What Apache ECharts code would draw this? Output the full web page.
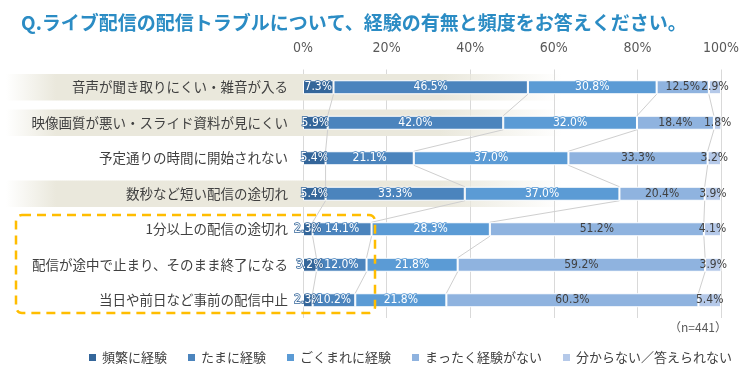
<!DOCTYPE html>
<html><head><meta charset="utf-8">
<script src="https://cdn.jsdelivr.net/npm/echarts@6/dist/echarts.min.js"></script>
<style>html,body{margin:0;padding:0;background:#fff}#c{width:753px;height:373px}</style>
</head><body><div id="c"></div>
<script>
const categories = [
  '音声が聞き取りにくい・雑音が入る',
  '映像画質が悪い・スライド資料が見にくい',
  '予定通りの時間に開始されない',
  '数秒など短い配信の途切れ',
  '1分以上の配信の途切れ',
  '配信が途中で止まり、そのまま終了になる',
  '当日や前日など事前の配信中止'
];
const seriesNames = ['頻繁に経験', 'たまに経験', 'ごくまれに経験', 'まったく経験がない', '分からない／答えられない'];
const frequent   = [7.3, 5.9, 5.4, 5.4, 2.3, 3.2, 2.3];
const sometimes  = [46.5, 42.0, 21.1, 33.3, 14.1, 12.0, 10.2];
const rarely     = [30.8, 32.0, 37.0, 37.0, 28.3, 21.8, 21.8];
const never      = [12.5, 18.4, 33.3, 20.4, 51.2, 59.2, 60.3];
const unknown    = [2.9, 1.8, 3.2, 3.9, 4.1, 3.9, 5.4];
const bandRows   = [0, 1, 3];
const xTicks     = [0, 20, 40, 60, 80, 100];

const values = [frequent, sometimes, rarely, never, unknown];
const colors = ['#34669a', '#4b84bd', '#5b9bd5', '#8fb3df', '#b5c9e9'];
const labelColors = ['#ffffff', '#ffffff', '#ffffff', '#404040', '#404040'];
const NARROW = "'Liberation Sans Narrow','DejaVu Sans Condensed',sans-serif";
const JP = "'Noto Sans CJK JP','Noto Sans',sans-serif";
const BAR_W = 14;

// cumulative boundaries for series lines
const cum = [];
let run = categories.map(() => 0);
values.forEach(arr => { run = run.map((v, i) => v + arr[i]); cum.push(run.slice()); });
const seriesLineData = [];
for (let k = 0; k < 4; k++) {
  for (let i = 0; i < categories.length - 1; i++) {
    seriesLineData.push([cum[k][i], i, cum[k][i + 1], i + 1]);
  }
}

const chart = echarts.init(document.getElementById('c'), null, {renderer: 'canvas'});

const barSeries = seriesNames.map((name, s) => ({
  name, type: 'bar', stack: 'total', barWidth: BAR_W, z: 3, clip: false,
  data: values[s],
  itemStyle: {color: colors[s], borderColor: '#ffffff', borderWidth: 1},
  label: {
    show: true, position: 'inside', color: labelColors[s],
    textBorderColor: s < 3 ? colors[s] : 'transparent', textBorderWidth: s < 3 ? 1.5 : 0,
    fontFamily: NARROW, fontSize: 12,
    formatter: p => p.value.toFixed(1) + '%'
  },
  labelLayout: {hideOverlap: false},
  emphasis: {disabled: true}
}));

chart.setOption({
  animation: false,
  backgroundColor: '#ffffff',
  title: {
    text: 'Q.ライブ配信の配信トラブルについて、経験の有無と頻度をお答えください。',
    left: 16, top: 8,
    textStyle: {color: '#2b8cc4', fontSize: 19, fontWeight: 'bold', fontFamily: JP}
  },
  legend: {
    data: seriesNames, left: 82, top: 346,
    icon: 'rect', itemWidth: 9, itemHeight: 9, itemGap: 19,
    textStyle: {color: '#404040', fontSize: 13, fontFamily: JP}
  },
  grid: {left: 303, right: 32, top: 69.5, bottom: 55, containLabel: false},
  xAxis: {
    type: 'value', position: 'top', min: 0, max: 100, interval: 20,
    axisLine: {show: false}, axisTick: {show: false},
    splitLine: {show: true, lineStyle: {color: '#d9d9d9', width: 1}},
    axisLabel: {
      margin: 14, color: '#595959', fontSize: 14, fontFamily: NARROW,
      formatter: v => (xTicks.includes(v) ? v + '%' : '')
    }
  },
  yAxis: {
    type: 'category', inverse: true, data: categories,
    axisLine: {show: false}, axisTick: {show: false},
    axisLabel: {margin: 15, color: '#404040', fontSize: 13.5, fontFamily: JP}
  },
  graphic: [
    {
      type: 'rect', z: 100, silent: true,
      shape: {x: 16, y: 215, width: 359, height: 98, r: 6},
      style: {fill: 'none', stroke: '#ffbd00', lineWidth: 2.5, lineDash: [9, 6]}
    },
    {
      type: 'text', z: 100, silent: true,
      style: {text: '（n=441）', x: 727, y: 327, align: 'right', verticalAlign: 'middle',
               fill: '#595959', font: "12px 'Noto Sans CJK JP', sans-serif"}
    }
  ],
  series: [
    {
      type: 'custom', name: 'band', z: 0, silent: true,
      data: bandRows.map(r => [0, r]),
      encode: {x: 0, y: 1},
      renderItem: (params, api) => {
        const c = api.coord([0, api.value(1)]);
        const bh = api.size([0, 1])[1] * 0.74;
        const cs = params.coordSys;
        const x0 = 6, x1 = cs.x + cs.width * 0.62;
        return {
          type: 'rect',
          shape: {x: x0, y: c[1] - bh / 2, width: x1 - x0, height: bh},
          style: {
            fill: new echarts.graphic.LinearGradient(0, 0, 1, 0, [
              {offset: 0, color: 'rgba(234,232,220,0)'},
              {offset: 0.09, color: 'rgba(234,232,220,1)'},
              {offset: 0.78, color: 'rgba(234,232,220,1)'},
              {offset: 1, color: 'rgba(234,232,220,0)'}
            ])
          }
        };
      }
    },
    {
      type: 'custom', name: 'serieslines', z: 2, silent: true,
      data: seriesLineData,
      encode: {x: [0, 2], y: [1, 3]},
      renderItem: (params, api) => {
        const p1 = api.coord([api.value(0), api.value(1)]);
        const p2 = api.coord([api.value(2), api.value(3)]);
        const h = BAR_W / 2;
        return {
          type: 'line',
          shape: {x1: p1[0], y1: p1[1] + h, x2: p2[0], y2: p2[1] - h},
          style: {stroke: '#cfcfcf', lineWidth: 1}
        };
      }
    },
    ...barSeries
  ]
});
</script>
</body></html>
